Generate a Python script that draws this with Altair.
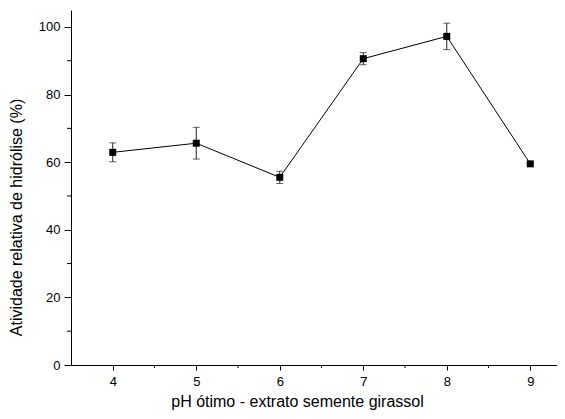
import altair as alt
import pandas as pd

ph = [4, 5, 6, 7, 8, 9]
atividade = [62.9, 65.6, 55.5, 90.6, 97.2, 59.5]
erro = [2.8, 4.7, 1.8, 1.8, 3.9, 0.0]
x_major = [4, 5, 6, 7, 8, 9]
x_minor = [4.5, 5.5, 6.5, 7.5, 8.5]
y_major = [0, 20, 40, 60, 80, 100]
y_minor = [10, 30, 50, 70, 90]

df = pd.DataFrame({"ph": ph, "val": atividade, "err": erro})
df["lo"] = df["val"] - df["err"]
df["hi"] = df["val"] + df["err"]
dfx = pd.DataFrame({"xm": x_minor})
dfy = pd.DataFrame({"ym": y_minor})

FONT = "Liberation Sans"
PH = 355
xscale = alt.Scale(domain=[3.5, 9.32], nice=False, zero=False)
yscale = alt.Scale(domain=[0, 105], nice=False)

xaxis = alt.Axis(values=x_major, format="d", title="pH ótimo - extrato semente girassol",
                 orient="bottom", grid=False, tickSize=5, labelPadding=5,
                 labelFontSize=13, titleFontSize=16, titleFontWeight="normal",
                 titleX=226, titleY=44, titleAnchor="middle", titleBaseline="bottom",
                 domainColor="black", tickColor="black", labelColor="black",
                 titleColor="black", labelFont=FONT, titleFont=FONT)
yaxis = alt.Axis(values=y_major, format="d", title="Atividade relativa de hidrólise (%)",
                 orient="left", grid=False, tickSize=7, labelPadding=4,
                 labelFontSize=13, titleFontSize=16, titleFontWeight="normal",
                 titleX=-47, titleY=207, titleAnchor="middle", titleBaseline="bottom",
                 domainColor="black", tickColor="black", labelColor="black",
                 titleColor="black", labelFont=FONT, titleFont=FONT)

base = alt.Chart(df)

line = base.mark_line(color="black", strokeWidth=1).encode(
    x=alt.X("ph:Q", scale=xscale, axis=xaxis),
    y=alt.Y("val:Q", scale=yscale, axis=yaxis),
)

xminor = alt.Chart(dfx).mark_rule(color="black", strokeWidth=1).encode(
    x="xm:Q", y=alt.value(PH), y2=alt.value(PH + 3)
)
yminor = alt.Chart(dfy).mark_rule(color="black", strokeWidth=1).encode(
    y="ym:Q", x=alt.value(0), x2=alt.value(-4)
)

rules = base.mark_rule(color="#222222", strokeWidth=1).encode(
    x="ph:Q", y="lo:Q", y2="hi:Q"
)
cap_lo = base.mark_tick(color="#222222", thickness=1, size=7, orient="horizontal").encode(
    x="ph:Q", y="lo:Q"
)
cap_hi = base.mark_tick(color="#222222", thickness=1, size=7, orient="horizontal").encode(
    x="ph:Q", y="hi:Q"
)
points = base.mark_square(color="black", size=49, opacity=1, filled=True).encode(
    x="ph:Q", y="val:Q"
)

chart = alt.layer(line, xminor, yminor, rules, cap_lo, cap_hi, points).properties(
    width=486, height=PH,
    background="white",
    autosize=alt.AutoSizeParams(type="none"),
    padding={"left": 63, "top": 2, "right": 0, "bottom": 46},
).configure_view(strokeWidth=0, stroke=None)

chart.save("out.html", embed_options={"renderer": "svg", "actions": False})
